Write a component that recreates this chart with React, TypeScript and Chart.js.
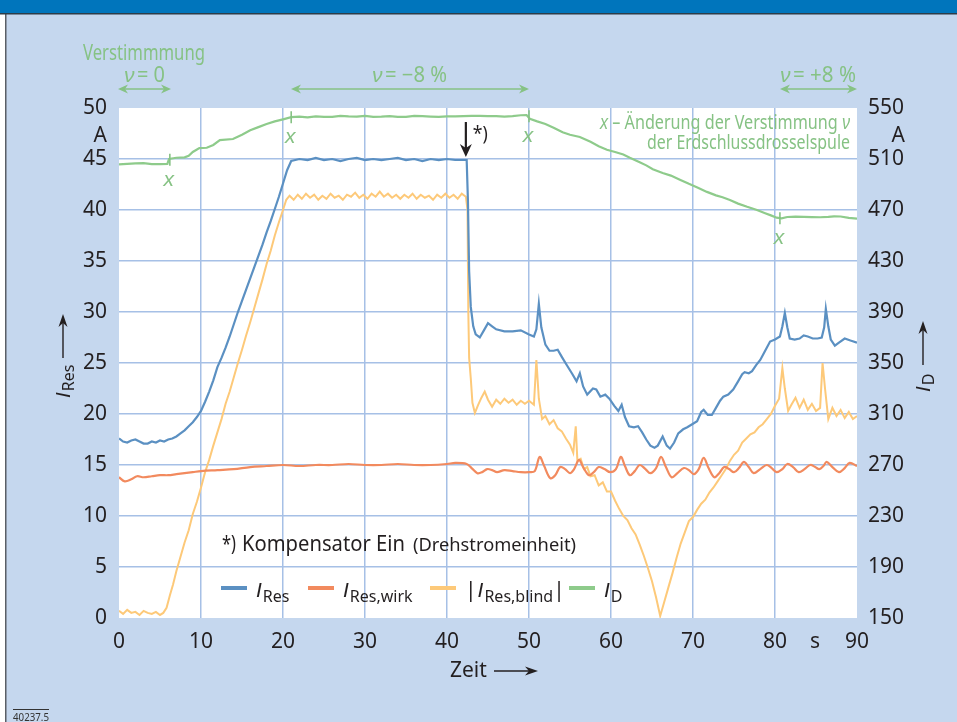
import React, { useEffect, useRef } from 'react';
import { Chart, registerables } from 'chart.js';
Chart.register(...registerables);

// ---------- data ----------
const xTickStep = 10;
const leftTickStep = 5;
const rightTickStep = 40;

const resT = [0,0.5,1,1.5,2,2.5,3,3.5,4,4.5,5,5.5,6,6.5,7,7.5,8,8.5,9,9.5,10,10.5,11,11.5,12,12.5,13,13.5,14,14.5,15,15.5,16,16.5,17,17.5,18,18.5,19,19.5,20,20.5,21,21.5,22,23,24,25,26,27,28,29,30,31,32,33,34,35,36,37,38,39,40,41,42,42.4,42.55,42.7,42.9,43.2,43.5,44,44.5,45,45.5,46,47,48,49,50,50.6,50.9,51.2,51.5,52,52.5,53,53.5,54,54.6,55.3,55.8,56.2,56.6,57.1,57.8,58.2,58.7,59.3,59.8,60.4,60.9,61.3,61.7,62.2,62.8,63.3,63.8,64.3,64.8,65.3,65.7,66.3,66.8,67.2,67.7,68.2,68.8,69.3,69.9,70.5,71,71.3,71.8,72.3,72.8,73.3,73.7,74.3,74.9,75.5,76,76.3,76.8,77.2,77.7,78.2,78.8,79.4,80,80.6,80.9,81.2,81.5,81.8,82.4,83,83.5,84,84.6,85.2,85.7,86,86.2,86.5,86.8,87.3,87.8,88.5,89.2,90];
const resV = [17.6,17.3,17.2,17.4,17.5,17.3,17.1,17.1,17.3,17.2,17.4,17.3,17.5,17.6,17.8,18.1,18.4,18.8,19.2,19.7,20.3,21.2,22.2,23.3,24.6,25.5,26.5,27.6,28.8,30.0,31.1,32.2,33.3,34.4,35.5,36.6,37.8,38.9,40.1,41.3,42.6,43.9,44.8,44.9,45.0,44.9,45.1,44.9,45.0,44.8,45.0,45.1,44.9,45.0,44.9,45.0,45.1,44.9,45.0,44.8,45.0,44.9,45.0,44.9,44.9,44.9,41.0,34.0,30.5,28.6,27.8,27.5,28.2,28.9,28.6,28.3,28.1,28.1,28.2,27.8,27.6,28.3,30.8,28.5,26.8,26.2,26.2,26.3,25.6,24.8,23.9,23.2,24.0,22.7,21.9,22.5,22.4,21.7,21.9,21.5,20.8,20.3,20.9,19.7,18.8,18.7,18.8,18.2,17.5,16.9,16.7,16.9,17.8,16.9,16.6,17.2,18.1,18.5,18.7,19.0,19.3,20.2,20.4,19.9,19.9,20.6,21.3,21.7,21.9,22.4,23.2,23.9,24.1,24.0,24.2,24.8,25.3,26.2,27.1,27.3,27.6,28.6,29.9,28.5,27.4,27.3,27.4,27.7,27.6,27.4,27.4,27.5,28.5,30.3,28.6,27.3,26.7,27.0,27.4,27.2,27.0];

const wirkT = [0,0.7,1.5,2.2,3,4,5,6,7,8,9,10,12,14,16,18,20,22,24,26,28,30,32,34,36,38,40,41,42.4,43,43.7,44.3,44.9,45.5,46.1,47,48,49,50,50.7,51.3,51.8,52.6,53.2,53.8,54.4,55,55.5,56.1,56.6,57.3,57.9,58.5,59.2,59.9,60.6,61.2,61.7,62.3,62.9,63.5,64.2,64.8,65.5,66.1,66.7,67.4,68.1,68.9,69.5,70.1,70.7,71.3,71.9,72.6,73.2,73.8,74.4,75,75.6,76.2,76.8,77.4,78.2,79,79.6,80.2,80.9,81.5,82.2,82.9,83.6,84.3,84.9,85.4,85.9,86.3,87,87.8,88.5,89.1,90];
const wirkV = [13.8,13.4,13.6,13.9,13.8,13.9,14.0,14.0,14.1,14.2,14.3,14.4,14.5,14.6,14.8,14.9,15.0,14.9,15.0,15.0,15.1,15.0,15.0,15.1,15.0,15.0,15.1,15.2,15.1,14.7,14.2,14.3,14.6,14.5,14.3,14.5,14.4,14.3,14.3,14.4,15.8,15.0,13.7,14.0,14.8,14.6,14.2,14.6,15.5,14.8,14.0,14.3,14.8,14.6,14.3,14.6,15.8,14.9,14.0,14.4,15.0,14.6,14.2,14.7,15.8,14.8,13.8,14.2,14.7,14.5,14.1,14.6,15.7,14.7,13.8,14.2,14.8,14.6,14.3,14.7,15.3,14.8,14.2,14.6,15.0,14.7,14.3,14.6,15.1,14.8,14.3,14.6,15.0,14.8,14.6,14.9,15.3,14.8,14.3,14.7,15.2,14.9];

const blindT = [0,0.5,1,1.5,2,2.5,3,3.5,4,4.5,5,5.4,5.8,6.2,6.6,7,7.5,8,8.5,9,9.5,10,10.5,11,11.5,12,12.5,13,13.5,14,14.5,15,15.5,16,16.5,17,17.5,18,18.5,19,19.5,20,20.4,20.8,21.3,21.8,22.3,22.8,23.3,23.8,24.3,24.8,25.3,25.8,26.3,26.8,27.3,27.8,28.3,28.8,29.3,29.8,30.3,30.8,31.3,31.8,32.3,32.8,33.3,33.8,34.3,34.8,35.3,35.8,36.3,36.8,37.3,37.8,38.3,38.8,39.3,39.8,40.3,40.8,41.3,41.8,42.3,42.5,42.6,42.7,42.9,43.1,43.4,43.8,44.2,44.6,45,45.5,46,46.5,47,47.5,48,48.5,49,49.5,50,50.6,50.9,51.2,51.6,52,52.5,53,53.5,54,54.5,55,55.4,55.7,55.9,56.3,56.7,57.1,57.5,58,58.5,59,59.5,60,60.5,61,61.5,62,62.5,63,63.5,64,64.5,65,65.5,66,66.5,67,67.5,68,68.5,69,69.5,70,70.5,71,71.5,72,72.5,73,73.5,74,74.5,75,75.5,76,76.5,77,77.5,78,78.5,79,79.5,80,80.5,80.9,81.2,81.6,82,82.5,83,83.5,84,84.5,85,85.5,85.8,86.1,86.5,87,87.5,88,88.5,89,89.5,90];
const blindV = [0.7,0.4,0.8,0.5,0.6,0.3,0.7,0.5,0.4,0.6,0.3,0.5,1.0,2.2,3.3,4.6,6.0,7.4,8.6,10.2,11.4,12.8,14.3,15.5,16.9,18.2,19.5,21.0,22.2,23.6,25.0,26.3,27.7,29.0,30.4,31.8,33.2,34.7,36.0,37.5,38.8,40.0,41.0,41.4,41.0,41.5,41.1,41.6,41.2,41.5,41.0,41.4,41.1,41.6,41.2,41.4,41.0,41.5,41.3,41.7,41.2,41.5,41.1,41.6,41.3,41.8,41.3,41.6,41.2,41.5,41.1,41.5,41.2,41.6,41.1,41.5,41.2,41.4,41.0,41.5,41.2,41.6,41.2,41.5,41.1,41.6,41.3,40.0,30.0,25.5,23.5,21.1,20.1,20.9,21.6,22.2,21.4,20.7,21.4,21.0,21.5,21.1,21.4,20.9,21.3,21.0,21.3,20.9,25.3,21.5,19.5,19.8,19.0,19.4,18.6,18.3,17.6,17.0,16.2,18.8,15.4,15.6,14.6,14.8,13.9,14.0,13.0,13.3,12.4,12.4,11.5,10.7,10.0,9.6,8.8,8.2,7.2,6.1,4.9,3.6,2.0,0.2,1.6,3.0,4.4,5.9,7.3,8.4,9.5,9.9,10.6,11.2,11.6,12.3,12.8,13.4,14.0,14.6,15.4,16.0,16.4,17.2,17.6,18.0,18.2,18.7,19.0,19.5,20.0,20.8,21.5,24.5,22.5,20.3,20.9,21.6,20.6,21.4,20.4,21.0,20.3,20.6,25.0,22.5,19.5,20.6,19.8,20.4,19.6,20.2,19.5,19.8];

const dT = [0,1,2,3,4,5,5.9,6.1,7,8,8.5,9,9.8,10.7,11.5,12.3,13.9,15,16,17,18,19,20,21,22,23,24,25,26,27,28,29,30,31,32,33,34,35,36,37,38,39,40,41,42,43,44,45,46,47,48,49,49.7,50.1,51,52,53,54.1,55,56.2,57.5,58.5,59.5,60.5,61.5,62.3,63.5,64.3,65.1,66.3,67.3,68.4,69.5,70.6,71.7,72.8,73.6,74.5,75.5,76.6,77.8,78.8,79.5,80.2,80.8,81.5,82.5,83.5,84.5,85.5,86.5,87.2,88,89,90];
const dV = [505.8,506.2,506.5,506.8,506.0,506.0,506.2,510.0,511.0,511.3,512.5,515.5,518.5,518.8,521.0,524.8,525.7,529.0,532.5,535.0,537.4,539.5,541.1,542.8,543.2,542.6,543.5,543.0,543.0,543.8,543.4,543.2,543.8,543.0,543.2,543.6,543.0,543.0,543.8,543.6,543.3,543.0,543.5,543.4,543.6,543.8,543.8,543.6,543.6,543.2,543.6,544.3,544.5,541.5,539.5,537.5,534.5,531.0,529.0,527.3,523.5,520.0,517.2,515.5,513.5,511.0,507.5,505.0,502.0,499.0,497.0,493.8,490.5,487.5,484.2,481.5,480.0,477.8,475.0,472.5,470.0,467.5,465.8,464.0,463.4,464.5,464.8,464.6,464.4,464.3,464.6,465.0,464.9,463.8,463.2];

// times where the detuning changes (marked "x" on I_D)
const changeT = [6.2, 21.0, 50.0, 80.6];
const changeV = [509.5, 542.8, 543.5, 463.6];
// moment the compensator is switched on
const compT = 42.3;
const compV = 44.9;

const C_RES = '#5b90c2';
const C_WIRK = '#f28a5e';
const C_BLIND = '#fdc979';
const C_D = '#8ecb8b';
const C_GTXT = '#86c284';
const C_TXT = '#231f20';
const FONT = '"Noto Sans", sans-serif';
const IFONT = '"Liberation Sans", "DejaVu Sans", sans-serif';

const W = 957, H = 722;

function pts(t: number[], v: number[]) { return t.map((x, i) => ({ x, y: v[i] })); }

type Seg = { text: string; font: string; dy?: number; gap?: number };
function richWidth(ctx: CanvasRenderingContext2D, segs: Seg[]) {
  let w = 0;
  for (const s of segs) { ctx.font = s.font; w += ctx.measureText(s.text).width + (s.gap || 0); }
  return w;
}
function rich(ctx: CanvasRenderingContext2D, x: number, y: number, segs: Seg[], fitWidth?: number) {
  ctx.save();
  ctx.textAlign = 'left';
  ctx.textBaseline = 'alphabetic';
  const nat = richWidth(ctx, segs);
  ctx.translate(x, y);
  if (fitWidth) ctx.scale(fitWidth / nat, 1);
  let cx = 0;
  for (const s of segs) {
    ctx.font = s.font;
    ctx.fillText(s.text, cx, s.dy || 0);
    cx += ctx.measureText(s.text).width + (s.gap || 0);
  }
  ctx.restore();
}
function arrow(ctx: CanvasRenderingContext2D, x1: number, y1: number, x2: number, y2: number, hl: number, hw: number, lw: number, both = false) {
  const ang = Math.atan2(y2 - y1, x2 - x1);
  const head = (x: number, y: number, a: number) => {
    ctx.save();
    ctx.translate(x, y); ctx.rotate(a);
    ctx.beginPath();
    ctx.moveTo(0, 0); ctx.lineTo(-hl, -hw / 2); ctx.lineTo(-hl * 0.7, 0); ctx.lineTo(-hl, hw / 2); ctx.closePath();
    ctx.fill();
    ctx.restore();
  };
  ctx.lineWidth = lw;
  ctx.beginPath();
  ctx.moveTo(both ? x1 + Math.cos(ang) * hl * 0.6 : x1, both ? y1 + Math.sin(ang) * hl * 0.6 : y1);
  ctx.lineTo(x2 - Math.cos(ang) * hl * 0.6, y2 - Math.sin(ang) * hl * 0.6);
  ctx.stroke();
  head(x2, y2, ang);
  if (both) head(x1, y1, ang + Math.PI);
}

const decor = {
  id: 'decor',
  beforeDraw(chart: any) {
    const ctx = chart.ctx as CanvasRenderingContext2D;
    const { left, right, top, bottom } = chart.chartArea;
    ctx.save();
    ctx.fillStyle = '#c5d7ee'; ctx.fillRect(0, 0, W, H);
    ctx.fillStyle = '#ffffff'; ctx.fillRect(0, 14, 5, H - 14);
    ctx.fillStyle = '#5a5f66'; ctx.fillRect(5, 14, 1.5, H - 14);
    ctx.fillStyle = '#0075bc'; ctx.fillRect(0, 0, W, 13);
    ctx.fillStyle = '#2d3c48'; ctx.fillRect(0, 13, W, 1.5);
    ctx.fillStyle = '#ffffff'; ctx.fillRect(left, top, right - left, bottom - top);
    ctx.restore();
  },
  afterDraw(chart: any) {
    const ctx = chart.ctx as CanvasRenderingContext2D;
    const sx = chart.scales.x, sy = chart.scales.y, sy2 = chart.scales.y2;
    ctx.save();
    const f = (sz: number) => `${sz}px ${FONT}`;
    const fi = (sz: number) => `italic ${sz}px ${IFONT}`;

    // units
    ctx.fillStyle = C_TXT;
    ctx.font = f(21);
    ctx.textAlign = 'right'; ctx.textBaseline = 'alphabetic';
    ctx.fillText('A', 107, 142);
    ctx.fillText('A', 905, 142);
    ctx.textAlign = 'left';
    ctx.fillText('s', 810, 648);

    // x title
    rich(ctx, 450, 677, [{ text: 'Zeit', font: f(21) }]);
    ctx.strokeStyle = C_TXT; ctx.fillStyle = C_TXT;
    arrow(ctx, 494, 671, 538, 671, 13, 9, 1.4);

    // left y title
    ctx.save(); ctx.translate(70, 398); ctx.rotate(-Math.PI / 2);
    rich(ctx, 0, 0, [{ text: 'I', font: fi(21), gap: 1 }, { text: 'Res', font: f(16), dy: 4 }]);
    ctx.restore();
    arrow(ctx, 63, 358, 63, 314, 13, 9, 1.4);
    // right y title
    ctx.save(); ctx.translate(930, 392); ctx.rotate(-Math.PI / 2);
    rich(ctx, 0, 0, [{ text: 'I', font: fi(21), gap: 1 }, { text: 'D', font: f(16), dy: 4 }]);
    ctx.restore();
    arrow(ctx, 923, 365, 923, 321, 13, 9, 1.4);

    // compensator arrow
    const ax = sx.getPixelForValue(compT);
    const ay = sy.getPixelForValue(compV) - 3;
    arrow(ctx, ax, ay - 35, ax, ay, 13, 12, 2.2);
    rich(ctx, ax + 7, 140, [{ text: '*)', font: f(19) }], 15);

    // note + legend
    rich(ctx, 222, 551, [{ text: '*)', font: f(21) }], 14);
    rich(ctx, 242, 551, [{ text: 'Kompensator Ein', font: f(21) }], 163);
    rich(ctx, 413, 551, [{ text: '(Drehstromeinheit)', font: f(18) }], 163);

    const legY = 588;
    const items: [string, number, Seg[]][] = [
      [C_RES, 221, [{ text: 'I', font: fi(21), gap: 1 }, { text: 'Res', font: f(16), dy: 5 }]],
      [C_WIRK, 308, [{ text: 'I', font: fi(21), gap: 1 }, { text: 'Res,wirk', font: f(16), dy: 5 }]],
      [C_BLIND, 430, [{ text: '|', font: f(21), gap: 1 }, { text: 'I', font: fi(21), gap: 1 }, { text: 'Res,blind', font: f(16), dy: 5 }, { text: '|', font: f(21) }]],
      [C_D, 569, [{ text: 'I', font: fi(21), gap: 1 }, { text: 'D', font: f(16), dy: 5 }]],
    ];
    for (const [col, lx, segs] of items) {
      ctx.strokeStyle = col; ctx.lineWidth = 4;
      ctx.beginPath(); ctx.moveTo(lx, legY); ctx.lineTo(lx + 26, legY); ctx.stroke();
      ctx.fillStyle = C_TXT;
      rich(ctx, lx + 35, 597, segs);
    }

    // green annotations
    ctx.fillStyle = C_GTXT; ctx.strokeStyle = C_GTXT;
    rich(ctx, 83, 60, [{ text: 'Verstimmmung', font: f(21) }], 122);
    rich(ctx, 124, 82, [{ text: 'ν', font: fi(21) }]);
    rich(ctx, 137, 82, [{ text: '= 0', font: f(21) }], 28);
    rich(ctx, 372, 82, [{ text: 'ν', font: fi(21) }]);
    rich(ctx, 385, 82, [{ text: '= −8 %', font: f(21) }], 62);
    rich(ctx, 780, 82, [{ text: 'ν', font: fi(21) }]);
    rich(ctx, 793, 82, [{ text: '= +8 %', font: f(21) }], 63);
    arrow(ctx, 118, 89, 171, 89, 10, 9, 1.6, true);
    arrow(ctx, 291, 89, 529, 89, 10, 9, 1.6, true);
    arrow(ctx, 780, 89, 857, 89, 10, 9, 1.6, true);

    rich(ctx, 600, 129, [
      { text: 'x', font: fi(20) },
      { text: ' – Änderung der Verstimmung ', font: f(20) },
      { text: 'ν', font: fi(20) },
    ], 250);
    rich(ctx, 647, 149, [{ text: 'der Erdschlussdrosselspule', font: f(20) }], 203);

    ctx.lineWidth = 1.6;
    for (let i = 0; i < changeT.length; i++) {
      const px = sx.getPixelForValue(changeT[i]);
      const py = sy2.getPixelForValue(changeV[i]);
      ctx.beginPath(); ctx.moveTo(px, py - 6); ctx.lineTo(px, py + 6); ctx.stroke();
      ctx.font = fi(21); ctx.textAlign = 'center'; ctx.textBaseline = 'alphabetic';
      ctx.fillText('x', px - 1, py + 26);
    }

    // figure number
    ctx.fillStyle = '#333'; ctx.textAlign = 'left';
    ctx.font = f(10);
    ctx.fillText('40237.5', 13, 721, 36);
    ctx.fillRect(13, 709, 36, 1);
    ctx.restore();
  },
};

export default function App() {
  const ref = useRef<HTMLCanvasElement>(null);
  useEffect(() => {
    document.body.style.margin = '0';
    const canvas = ref.current!;
    const gridCol = (min: number, max: number) => (c: any) =>
      c.tick && (c.tick.value === min || c.tick.value === max) ? 'rgba(0,0,0,0)' : '#a6c0e6';
    const tickFont = { family: '"Noto Sans", sans-serif', size: 21 };
    const chart = new Chart(canvas, {
      type: 'line',
      data: {
        datasets: [
          { label: 'I_D', data: pts(dT, dV), yAxisID: 'y2', borderColor: C_D, borderWidth: 2.2, pointRadius: 0, tension: 0 },
          { label: 'I_Res', data: pts(resT, resV), yAxisID: 'y', borderColor: C_RES, borderWidth: 2.2, pointRadius: 0, tension: 0 },
          { label: 'I_Res,wirk', data: pts(wirkT, wirkV), yAxisID: 'y', borderColor: C_WIRK, borderWidth: 2.2, pointRadius: 0, tension: 0.35 },
          { label: '|I_Res,blind|', data: pts(blindT, blindV), yAxisID: 'y', borderColor: C_BLIND, borderWidth: 2, pointRadius: 0, tension: 0 },
        ],
      },
      options: {
        responsive: false,
        animation: false,
        devicePixelRatio: 1,
        layout: { padding: { top: 108, left: 0, right: 0, bottom: 0 } },
        plugins: { legend: { display: false }, tooltip: { enabled: false } },
        scales: {
          x: {
            type: 'linear', min: 0, max: 90,
            ticks: { stepSize: xTickStep, color: C_TXT, font: tickFont, padding: 11, maxRotation: 0 },
            grid: { color: gridCol(0, 90), lineWidth: 1.5, drawTicks: false },
            border: { display: false },
            afterFit: (s: any) => { s.height = 104; },
          },
          y: {
            type: 'linear', position: 'left', min: 0, max: 50,
            ticks: { stepSize: leftTickStep, color: C_TXT, font: tickFont, padding: 12 },
            grid: { color: gridCol(0, 50), lineWidth: 1.5, drawTicks: false },
            border: { display: false },
            afterFit: (s: any) => { s.width = 119; },
          },
          y2: {
            type: 'linear', position: 'right', min: 150, max: 550,
            ticks: { stepSize: rightTickStep, color: C_TXT, font: tickFont, padding: 11 },
            grid: { display: false, drawTicks: false },
            border: { display: false },
            afterFit: (s: any) => { s.width = 100; },
          },
        },
      },
      plugins: [decor],
    } as any);
    return () => chart.destroy();
  }, []);
  return <canvas ref={ref} width={W} height={H} style={{ display: 'block' }} />;
}
